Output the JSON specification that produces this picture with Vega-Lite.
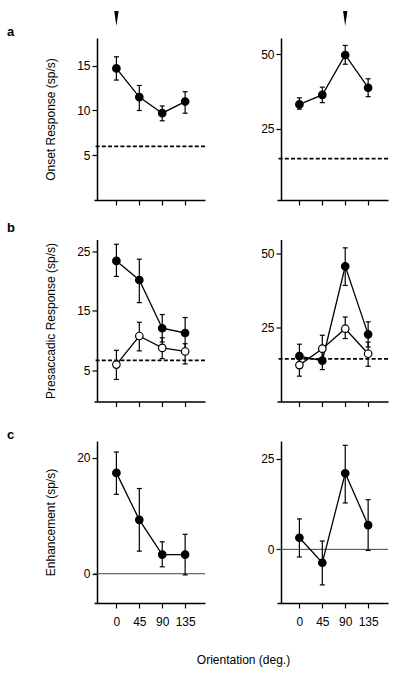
{
  "$schema": "https://vega.github.io/schema/vega-lite/v6.json",
  "padding": {"left": 7, "top": 10, "right": 5, "bottom": 5},
  "autosize": {"type": "pad"},
  "background": "white",
  "datasets": {
    "rows": [
      {"panel": "aL", "kind": "mean", "series": "filled", "orientation": 0, "mean": 14.7, "lo": 13.4, "hi": 16.0},
      {"panel": "aL", "kind": "mean", "series": "filled", "orientation": 45, "mean": 11.5, "lo": 10.0, "hi": 12.8},
      {"panel": "aL", "kind": "mean", "series": "filled", "orientation": 90, "mean": 9.7, "lo": 8.85, "hi": 10.5},
      {"panel": "aL", "kind": "mean", "series": "filled", "orientation": 135, "mean": 11.0, "lo": 9.7, "hi": 12.1},
      {"panel": "aL", "kind": "baseline", "level": 6.0},
      {"panel": "aL", "kind": "preferred", "orientation": 0},
      {"panel": "aR", "kind": "mean", "series": "filled", "orientation": 0, "mean": 33.1, "lo": 31.5, "hi": 35.3},
      {"panel": "aR", "kind": "mean", "series": "filled", "orientation": 45, "mean": 36.3, "lo": 33.7, "hi": 38.9},
      {"panel": "aR", "kind": "mean", "series": "filled", "orientation": 90, "mean": 49.7, "lo": 46.6, "hi": 52.9},
      {"panel": "aR", "kind": "mean", "series": "filled", "orientation": 135, "mean": 38.7, "lo": 35.7, "hi": 41.7},
      {"panel": "aR", "kind": "baseline", "level": 14.9},
      {"panel": "aR", "kind": "preferred", "orientation": 90},
      {"panel": "bL", "kind": "mean", "series": "filled", "orientation": 0, "mean": 23.4, "lo": 20.8, "hi": 26.2},
      {"panel": "bL", "kind": "mean", "series": "filled", "orientation": 45, "mean": 20.2, "lo": 16.4, "hi": 23.7},
      {"panel": "bL", "kind": "mean", "series": "filled", "orientation": 90, "mean": 12.1, "lo": 9.8, "hi": 14.4},
      {"panel": "bL", "kind": "mean", "series": "filled", "orientation": 135, "mean": 11.3, "lo": 8.7, "hi": 13.9},
      {"panel": "bL", "kind": "mean", "series": "open", "orientation": 0, "mean": 6.0, "lo": 3.5, "hi": 8.4},
      {"panel": "bL", "kind": "mean", "series": "open", "orientation": 45, "mean": 10.8, "lo": 8.3, "hi": 13.1},
      {"panel": "bL", "kind": "mean", "series": "open", "orientation": 90, "mean": 8.8, "lo": 7.0, "hi": 10.5},
      {"panel": "bL", "kind": "mean", "series": "open", "orientation": 135, "mean": 8.2, "lo": 6.1, "hi": 9.5},
      {"panel": "bL", "kind": "baseline", "level": 6.7},
      {"panel": "bR", "kind": "mean", "series": "filled", "orientation": 0, "mean": 15.5, "lo": 11.5, "hi": 19.5},
      {"panel": "bR", "kind": "mean", "series": "filled", "orientation": 45, "mean": 14.0, "lo": 11.0, "hi": 17.0},
      {"panel": "bR", "kind": "mean", "series": "filled", "orientation": 90, "mean": 45.6, "lo": 39.2, "hi": 51.8},
      {"panel": "bR", "kind": "mean", "series": "filled", "orientation": 135, "mean": 22.8, "lo": 18.6, "hi": 27.0},
      {"panel": "bR", "kind": "mean", "series": "open", "orientation": 0, "mean": 12.5, "lo": 8.8, "hi": 15.5},
      {"panel": "bR", "kind": "mean", "series": "open", "orientation": 45, "mean": 18.0, "lo": 14.5, "hi": 22.5},
      {"panel": "bR", "kind": "mean", "series": "open", "orientation": 90, "mean": 24.7, "lo": 21.4, "hi": 28.6},
      {"panel": "bR", "kind": "mean", "series": "open", "orientation": 135, "mean": 16.3, "lo": 12.1, "hi": 20.2},
      {"panel": "bR", "kind": "baseline", "level": 14.6},
      {"panel": "cL", "kind": "mean", "series": "filled", "orientation": 0, "mean": 17.4, "lo": 13.7, "hi": 21.0},
      {"panel": "cL", "kind": "mean", "series": "filled", "orientation": 45, "mean": 9.3, "lo": 3.9, "hi": 14.7},
      {"panel": "cL", "kind": "mean", "series": "filled", "orientation": 90, "mean": 3.3, "lo": 1.2, "hi": 5.5},
      {"panel": "cL", "kind": "mean", "series": "filled", "orientation": 135, "mean": 3.3, "lo": -0.2, "hi": 6.8},
      {"panel": "cL", "kind": "zero", "level": 0},
      {"panel": "cR", "kind": "mean", "series": "filled", "orientation": 0, "mean": 3.2, "lo": -2.1, "hi": 8.4},
      {"panel": "cR", "kind": "mean", "series": "filled", "orientation": 45, "mean": -3.7, "lo": -9.8, "hi": 2.3},
      {"panel": "cR", "kind": "mean", "series": "filled", "orientation": 90, "mean": 21.0, "lo": 12.8, "hi": 28.7},
      {"panel": "cR", "kind": "mean", "series": "filled", "orientation": 135, "mean": 6.7, "lo": -0.3, "hi": 13.7},
      {"panel": "cR", "kind": "zero", "level": 0}
    ]
  },
  "data": {"name": "rows"},
  "bounds": "flush",
  "columns": 2,
  "spacing": {"row": 39.5, "column": 72},
  "concat": [
    {
      "width": 111, "height": 162,
      "title": {"text": "a", "anchor": "start", "frame": "group", "dx": -87, "offset": -28, "fontSize": 13, "fontWeight": "bold", "font": "Liberation Sans", "color": "black"},
      "transform": [{"filter": "datum.panel === 'aL'"}],
      "layer": [
        {"transform": [{"filter": "datum.kind === 'baseline'"}], "mark": {"type": "rule", "strokeDash": [4, 2.2], "strokeWidth": 1.8, "color": "black"},
         "encoding": {"y": {"field": "level", "type": "quantitative", "title": "Onset Response (sp/s)", "scale": {"domain": [0, 18.1], "nice": false, "zero": false}, "axis": {"values": [5, 10, 15], "offset": -3, "titleX": -40, "titleAngle": 270, "titleBaseline": "bottom", "titleAlign": "center"}}}},
        {"transform": [{"filter": "datum.kind === 'mean'"}], "mark": {"type": "line", "color": "black", "strokeWidth": 1.3},
         "encoding": {
           "x": {"field": "orientation", "type": "quantitative", "title": null, "scale": {"domain": [-44, 174], "nice": false, "zero": false}, "axis": {"values": [0, 45, 90, 135], "labels": false}},
           "y": {"field": "mean", "type": "quantitative", "title": "Onset Response (sp/s)", "scale": {"domain": [0, 18.1], "nice": false, "zero": false}},
           "detail": {"field": "series", "type": "nominal"}}},
        {"transform": [{"filter": "datum.kind === 'mean'"}], "mark": {"type": "rule", "color": "black", "strokeWidth": 1.2},
         "encoding": {"x": {"field": "orientation", "type": "quantitative", "title": null, "scale": {"domain": [-44, 174], "nice": false, "zero": false}, "axis": {"values": [0, 45, 90, 135], "labels": false}},
           "y": {"field": "lo", "type": "quantitative", "title": "Onset Response (sp/s)", "scale": {"domain": [0, 18.1], "nice": false, "zero": false}}, "y2": {"field": "hi"}}},
        {"transform": [{"filter": "datum.kind === 'mean'"}], "mark": {"type": "tick", "orient": "horizontal", "size": 5, "thickness": 1.2, "color": "black", "opacity": 1},
         "encoding": {"x": {"field": "orientation", "type": "quantitative", "title": null, "scale": {"domain": [-44, 174], "nice": false, "zero": false}, "axis": {"values": [0, 45, 90, 135], "labels": false}},
           "y": {"field": "lo", "type": "quantitative", "title": "Onset Response (sp/s)", "scale": {"domain": [0, 18.1], "nice": false, "zero": false}}}},
        {"transform": [{"filter": "datum.kind === 'mean'"}], "mark": {"type": "tick", "orient": "horizontal", "size": 5, "thickness": 1.2, "color": "black", "opacity": 1},
         "encoding": {"x": {"field": "orientation", "type": "quantitative", "title": null, "scale": {"domain": [-44, 174], "nice": false, "zero": false}, "axis": {"values": [0, 45, 90, 135], "labels": false}},
           "y": {"field": "hi", "type": "quantitative", "title": "Onset Response (sp/s)", "scale": {"domain": [0, 18.1], "nice": false, "zero": false}}}},
        {"transform": [{"filter": "datum.kind === 'mean'"}], "mark": {"type": "point", "filled": true, "size": 56, "stroke": "black", "strokeWidth": 1.2, "opacity": 1},
         "encoding": {"x": {"field": "orientation", "type": "quantitative", "title": null, "scale": {"domain": [-44, 174], "nice": false, "zero": false}, "axis": {"values": [0, 45, 90, 135], "labels": false}},
           "y": {"field": "mean", "type": "quantitative", "title": "Onset Response (sp/s)", "scale": {"domain": [0, 18.1], "nice": false, "zero": false}},
           "fill": {"field": "series", "type": "nominal", "scale": {"domain": ["filled", "open"], "range": ["black", "white"]}, "legend": null}}},
        {"transform": [{"filter": "datum.kind === 'preferred'"}], "mark": {"type": "point", "shape": "M-0.29,-1L0.29,-1L0,1Z", "filled": true, "color": "black", "size": 225, "opacity": 1, "clip": false},
         "encoding": {"x": {"field": "orientation", "type": "quantitative", "title": null, "scale": {"domain": [-44, 174], "nice": false, "zero": false}, "axis": {"values": [0, 45, 90, 135], "labels": false}},
           "y": {"datum": 20.28, "type": "quantitative", "title": "Onset Response (sp/s)", "scale": {"domain": [0, 18.1], "nice": false, "zero": false}}}}
      ]
    },
    {
      "width": 111, "height": 162,
      "transform": [{"filter": "datum.panel === 'aR'"}],
      "layer": [
        {"transform": [{"filter": "datum.kind === 'baseline'"}], "mark": {"type": "rule", "strokeDash": [4, 2.2], "strokeWidth": 1.8, "color": "black"},
         "encoding": {"y": {"field": "level", "type": "quantitative", "title": null, "scale": {"domain": [1, 55.4], "nice": false, "zero": false}, "axis": {"values": [25, 50], "offset": -4}}}},
        {"transform": [{"filter": "datum.kind === 'mean'"}], "mark": {"type": "line", "color": "black", "strokeWidth": 1.3},
         "encoding": {
           "x": {"field": "orientation", "type": "quantitative", "title": null, "scale": {"domain": [-44, 174], "nice": false, "zero": false}, "axis": {"values": [0, 45, 90, 135], "labels": false}},
           "y": {"field": "mean", "type": "quantitative", "title": null, "scale": {"domain": [1, 55.4], "nice": false, "zero": false}},
           "detail": {"field": "series", "type": "nominal"}}},
        {"transform": [{"filter": "datum.kind === 'mean'"}], "mark": {"type": "rule", "color": "black", "strokeWidth": 1.2},
         "encoding": {"x": {"field": "orientation", "type": "quantitative", "title": null, "scale": {"domain": [-44, 174], "nice": false, "zero": false}, "axis": {"values": [0, 45, 90, 135], "labels": false}},
           "y": {"field": "lo", "type": "quantitative", "title": null, "scale": {"domain": [1, 55.4], "nice": false, "zero": false}}, "y2": {"field": "hi"}}},
        {"transform": [{"filter": "datum.kind === 'mean'"}], "mark": {"type": "tick", "orient": "horizontal", "size": 5, "thickness": 1.2, "color": "black", "opacity": 1},
         "encoding": {"x": {"field": "orientation", "type": "quantitative", "title": null, "scale": {"domain": [-44, 174], "nice": false, "zero": false}, "axis": {"values": [0, 45, 90, 135], "labels": false}},
           "y": {"field": "lo", "type": "quantitative", "title": null, "scale": {"domain": [1, 55.4], "nice": false, "zero": false}}}},
        {"transform": [{"filter": "datum.kind === 'mean'"}], "mark": {"type": "tick", "orient": "horizontal", "size": 5, "thickness": 1.2, "color": "black", "opacity": 1},
         "encoding": {"x": {"field": "orientation", "type": "quantitative", "title": null, "scale": {"domain": [-44, 174], "nice": false, "zero": false}, "axis": {"values": [0, 45, 90, 135], "labels": false}},
           "y": {"field": "hi", "type": "quantitative", "title": null, "scale": {"domain": [1, 55.4], "nice": false, "zero": false}}}},
        {"transform": [{"filter": "datum.kind === 'mean'"}], "mark": {"type": "point", "filled": true, "size": 56, "stroke": "black", "strokeWidth": 1.2, "opacity": 1},
         "encoding": {"x": {"field": "orientation", "type": "quantitative", "title": null, "scale": {"domain": [-44, 174], "nice": false, "zero": false}, "axis": {"values": [0, 45, 90, 135], "labels": false}},
           "y": {"field": "mean", "type": "quantitative", "title": null, "scale": {"domain": [1, 55.4], "nice": false, "zero": false}},
           "fill": {"field": "series", "type": "nominal", "scale": {"domain": ["filled", "open"], "range": ["black", "white"]}, "legend": null}}},
        {"transform": [{"filter": "datum.kind === 'preferred'"}], "mark": {"type": "point", "shape": "M-0.29,-1L0.29,-1L0,1Z", "filled": true, "color": "black", "size": 225, "opacity": 1, "clip": false},
         "encoding": {"x": {"field": "orientation", "type": "quantitative", "title": null, "scale": {"domain": [-44, 174], "nice": false, "zero": false}, "axis": {"values": [0, 45, 90, 135], "labels": false}},
           "y": {"datum": 61.95, "type": "quantitative", "title": null, "scale": {"domain": [1, 55.4], "nice": false, "zero": false}}}}
      ]
    },
    {
      "width": 111, "height": 162,
      "title": {"text": "b", "anchor": "start", "frame": "group", "dx": -87, "offset": 5, "fontSize": 13, "fontWeight": "bold", "font": "Liberation Sans", "color": "black"},
      "transform": [{"filter": "datum.panel === 'bL'"}],
      "layer": [
        {"transform": [{"filter": "datum.kind === 'baseline'"}], "mark": {"type": "rule", "strokeDash": [4, 2.2], "strokeWidth": 1.8, "color": "black"},
         "encoding": {"y": {"field": "level", "type": "quantitative", "title": "Presaccadic Response (sp/s)", "scale": {"domain": [-0.2, 27], "nice": false, "zero": false}, "axis": {"values": [5, 15, 25], "offset": -3, "titleX": -40, "titleAngle": 270, "titleBaseline": "bottom", "titleAlign": "center"}}}},
        {"transform": [{"filter": "datum.kind === 'mean'"}], "mark": {"type": "line", "color": "black", "strokeWidth": 1.3},
         "encoding": {
           "x": {"field": "orientation", "type": "quantitative", "title": null, "scale": {"domain": [-44, 174], "nice": false, "zero": false}, "axis": {"values": [0, 45, 90, 135], "labels": false}},
           "y": {"field": "mean", "type": "quantitative", "title": "Presaccadic Response (sp/s)", "scale": {"domain": [-0.2, 27], "nice": false, "zero": false}},
           "detail": {"field": "series", "type": "nominal"}}},
        {"transform": [{"filter": "datum.kind === 'mean'"}], "mark": {"type": "rule", "color": "black", "strokeWidth": 1.2},
         "encoding": {"x": {"field": "orientation", "type": "quantitative", "title": null, "scale": {"domain": [-44, 174], "nice": false, "zero": false}, "axis": {"values": [0, 45, 90, 135], "labels": false}},
           "y": {"field": "lo", "type": "quantitative", "title": "Presaccadic Response (sp/s)", "scale": {"domain": [-0.2, 27], "nice": false, "zero": false}}, "y2": {"field": "hi"}}},
        {"transform": [{"filter": "datum.kind === 'mean'"}], "mark": {"type": "tick", "orient": "horizontal", "size": 5, "thickness": 1.2, "color": "black", "opacity": 1},
         "encoding": {"x": {"field": "orientation", "type": "quantitative", "title": null, "scale": {"domain": [-44, 174], "nice": false, "zero": false}, "axis": {"values": [0, 45, 90, 135], "labels": false}},
           "y": {"field": "lo", "type": "quantitative", "title": "Presaccadic Response (sp/s)", "scale": {"domain": [-0.2, 27], "nice": false, "zero": false}}}},
        {"transform": [{"filter": "datum.kind === 'mean'"}], "mark": {"type": "tick", "orient": "horizontal", "size": 5, "thickness": 1.2, "color": "black", "opacity": 1},
         "encoding": {"x": {"field": "orientation", "type": "quantitative", "title": null, "scale": {"domain": [-44, 174], "nice": false, "zero": false}, "axis": {"values": [0, 45, 90, 135], "labels": false}},
           "y": {"field": "hi", "type": "quantitative", "title": "Presaccadic Response (sp/s)", "scale": {"domain": [-0.2, 27], "nice": false, "zero": false}}}},
        {"transform": [{"filter": "datum.kind === 'mean'"}], "mark": {"type": "point", "filled": true, "size": 56, "stroke": "black", "strokeWidth": 1.2, "opacity": 1},
         "encoding": {"x": {"field": "orientation", "type": "quantitative", "title": null, "scale": {"domain": [-44, 174], "nice": false, "zero": false}, "axis": {"values": [0, 45, 90, 135], "labels": false}},
           "y": {"field": "mean", "type": "quantitative", "title": "Presaccadic Response (sp/s)", "scale": {"domain": [-0.2, 27], "nice": false, "zero": false}},
           "fill": {"field": "series", "type": "nominal", "scale": {"domain": ["filled", "open"], "range": ["black", "white"]}, "legend": null}}}
      ]
    },
    {
      "width": 111, "height": 162,
      "transform": [{"filter": "datum.panel === 'bR'"}],
      "layer": [
        {"transform": [{"filter": "datum.kind === 'baseline'"}], "mark": {"type": "rule", "strokeDash": [4, 2.2], "strokeWidth": 1.8, "color": "black"},
         "encoding": {"y": {"field": "level", "type": "quantitative", "title": null, "scale": {"domain": [0.3, 54.6], "nice": false, "zero": false}, "axis": {"values": [25, 50], "offset": -4}}}},
        {"transform": [{"filter": "datum.kind === 'mean'"}], "mark": {"type": "line", "color": "black", "strokeWidth": 1.3},
         "encoding": {
           "x": {"field": "orientation", "type": "quantitative", "title": null, "scale": {"domain": [-44, 174], "nice": false, "zero": false}, "axis": {"values": [0, 45, 90, 135], "labels": false}},
           "y": {"field": "mean", "type": "quantitative", "title": null, "scale": {"domain": [0.3, 54.6], "nice": false, "zero": false}},
           "detail": {"field": "series", "type": "nominal"}}},
        {"transform": [{"filter": "datum.kind === 'mean'"}], "mark": {"type": "rule", "color": "black", "strokeWidth": 1.2},
         "encoding": {"x": {"field": "orientation", "type": "quantitative", "title": null, "scale": {"domain": [-44, 174], "nice": false, "zero": false}, "axis": {"values": [0, 45, 90, 135], "labels": false}},
           "y": {"field": "lo", "type": "quantitative", "title": null, "scale": {"domain": [0.3, 54.6], "nice": false, "zero": false}}, "y2": {"field": "hi"}}},
        {"transform": [{"filter": "datum.kind === 'mean'"}], "mark": {"type": "tick", "orient": "horizontal", "size": 5, "thickness": 1.2, "color": "black", "opacity": 1},
         "encoding": {"x": {"field": "orientation", "type": "quantitative", "title": null, "scale": {"domain": [-44, 174], "nice": false, "zero": false}, "axis": {"values": [0, 45, 90, 135], "labels": false}},
           "y": {"field": "lo", "type": "quantitative", "title": null, "scale": {"domain": [0.3, 54.6], "nice": false, "zero": false}}}},
        {"transform": [{"filter": "datum.kind === 'mean'"}], "mark": {"type": "tick", "orient": "horizontal", "size": 5, "thickness": 1.2, "color": "black", "opacity": 1},
         "encoding": {"x": {"field": "orientation", "type": "quantitative", "title": null, "scale": {"domain": [-44, 174], "nice": false, "zero": false}, "axis": {"values": [0, 45, 90, 135], "labels": false}},
           "y": {"field": "hi", "type": "quantitative", "title": null, "scale": {"domain": [0.3, 54.6], "nice": false, "zero": false}}}},
        {"transform": [{"filter": "datum.kind === 'mean'"}], "mark": {"type": "point", "filled": true, "size": 56, "stroke": "black", "strokeWidth": 1.2, "opacity": 1},
         "encoding": {"x": {"field": "orientation", "type": "quantitative", "title": null, "scale": {"domain": [-44, 174], "nice": false, "zero": false}, "axis": {"values": [0, 45, 90, 135], "labels": false}},
           "y": {"field": "mean", "type": "quantitative", "title": null, "scale": {"domain": [0.3, 54.6], "nice": false, "zero": false}},
           "fill": {"field": "series", "type": "nominal", "scale": {"domain": ["filled", "open"], "range": ["black", "white"]}, "legend": null}}}
      ]
    },
    {
      "width": 111, "height": 162,
      "title": {"text": "c", "anchor": "start", "frame": "group", "dx": -87, "offset": -1, "fontSize": 13, "fontWeight": "bold", "font": "Liberation Sans", "color": "black"},
      "transform": [{"filter": "datum.panel === 'cL'"}],
      "layer": [
        {"transform": [{"filter": "datum.kind === 'zero'"}], "mark": {"type": "rule", "strokeWidth": 1, "color": "#444444"},
         "encoding": {"y": {"field": "level", "type": "quantitative", "title": "Enhancement (sp/s)", "scale": {"domain": [-5.05, 22.9], "nice": false, "zero": false}, "axis": {"values": [0, 20], "offset": -3, "titleX": -40, "titleAngle": 270, "titleBaseline": "bottom", "titleAlign": "center"}}}},
        {"transform": [{"filter": "datum.kind === 'mean'"}], "mark": {"type": "line", "color": "black", "strokeWidth": 1.3},
         "encoding": {
           "x": {"field": "orientation", "type": "quantitative", "title": "Orientation (deg.)", "scale": {"domain": [-44, 174], "nice": false, "zero": false}, "axis": {"values": [0, 45, 90, 135], "labelOverlap": false, "labelFlush": false, "labelPadding": 8, "titleX": 149, "titleY": 51, "titleAlign": "center", "titleBaseline": "top"}},
           "y": {"field": "mean", "type": "quantitative", "title": "Enhancement (sp/s)", "scale": {"domain": [-5.05, 22.9], "nice": false, "zero": false}},
           "detail": {"field": "series", "type": "nominal"}}},
        {"transform": [{"filter": "datum.kind === 'mean'"}], "mark": {"type": "rule", "color": "black", "strokeWidth": 1.2},
         "encoding": {"x": {"field": "orientation", "type": "quantitative", "title": "Orientation (deg.)", "scale": {"domain": [-44, 174], "nice": false, "zero": false}, "axis": {"values": [0, 45, 90, 135], "labelOverlap": false, "labelFlush": false, "labelPadding": 8, "titleX": 149, "titleY": 51, "titleAlign": "center", "titleBaseline": "top"}},
           "y": {"field": "lo", "type": "quantitative", "title": "Enhancement (sp/s)", "scale": {"domain": [-5.05, 22.9], "nice": false, "zero": false}}, "y2": {"field": "hi"}}},
        {"transform": [{"filter": "datum.kind === 'mean'"}], "mark": {"type": "tick", "orient": "horizontal", "size": 5, "thickness": 1.2, "color": "black", "opacity": 1},
         "encoding": {"x": {"field": "orientation", "type": "quantitative", "title": "Orientation (deg.)", "scale": {"domain": [-44, 174], "nice": false, "zero": false}, "axis": {"values": [0, 45, 90, 135], "labelOverlap": false, "labelFlush": false, "labelPadding": 8, "titleX": 149, "titleY": 51, "titleAlign": "center", "titleBaseline": "top"}},
           "y": {"field": "lo", "type": "quantitative", "title": "Enhancement (sp/s)", "scale": {"domain": [-5.05, 22.9], "nice": false, "zero": false}}}},
        {"transform": [{"filter": "datum.kind === 'mean'"}], "mark": {"type": "tick", "orient": "horizontal", "size": 5, "thickness": 1.2, "color": "black", "opacity": 1},
         "encoding": {"x": {"field": "orientation", "type": "quantitative", "title": "Orientation (deg.)", "scale": {"domain": [-44, 174], "nice": false, "zero": false}, "axis": {"values": [0, 45, 90, 135], "labelOverlap": false, "labelFlush": false, "labelPadding": 8, "titleX": 149, "titleY": 51, "titleAlign": "center", "titleBaseline": "top"}},
           "y": {"field": "hi", "type": "quantitative", "title": "Enhancement (sp/s)", "scale": {"domain": [-5.05, 22.9], "nice": false, "zero": false}}}},
        {"transform": [{"filter": "datum.kind === 'mean'"}], "mark": {"type": "point", "filled": true, "size": 56, "stroke": "black", "strokeWidth": 1.2, "opacity": 1},
         "encoding": {"x": {"field": "orientation", "type": "quantitative", "title": "Orientation (deg.)", "scale": {"domain": [-44, 174], "nice": false, "zero": false}, "axis": {"values": [0, 45, 90, 135], "labelOverlap": false, "labelFlush": false, "labelPadding": 8, "titleX": 149, "titleY": 51, "titleAlign": "center", "titleBaseline": "top"}},
           "y": {"field": "mean", "type": "quantitative", "title": "Enhancement (sp/s)", "scale": {"domain": [-5.05, 22.9], "nice": false, "zero": false}},
           "fill": {"field": "series", "type": "nominal", "scale": {"domain": ["filled", "open"], "range": ["black", "white"]}, "legend": null}}}
      ]
    },
    {
      "width": 111, "height": 162,
      "transform": [{"filter": "datum.panel === 'cR'"}],
      "layer": [
        {"transform": [{"filter": "datum.kind === 'zero'"}], "mark": {"type": "rule", "strokeWidth": 1, "color": "#444444"},
         "encoding": {"y": {"field": "level", "type": "quantitative", "title": null, "scale": {"domain": [-14.8, 29.9], "nice": false, "zero": false}, "axis": {"values": [0, 25], "offset": -4}}}},
        {"transform": [{"filter": "datum.kind === 'mean'"}], "mark": {"type": "line", "color": "black", "strokeWidth": 1.3},
         "encoding": {
           "x": {"field": "orientation", "type": "quantitative", "title": null, "scale": {"domain": [-44, 174], "nice": false, "zero": false}, "axis": {"values": [0, 45, 90, 135], "labelOverlap": false, "labelFlush": false, "labelPadding": 8}},
           "y": {"field": "mean", "type": "quantitative", "title": null, "scale": {"domain": [-14.8, 29.9], "nice": false, "zero": false}},
           "detail": {"field": "series", "type": "nominal"}}},
        {"transform": [{"filter": "datum.kind === 'mean'"}], "mark": {"type": "rule", "color": "black", "strokeWidth": 1.2},
         "encoding": {"x": {"field": "orientation", "type": "quantitative", "title": null, "scale": {"domain": [-44, 174], "nice": false, "zero": false}, "axis": {"values": [0, 45, 90, 135], "labelOverlap": false, "labelFlush": false, "labelPadding": 8}},
           "y": {"field": "lo", "type": "quantitative", "title": null, "scale": {"domain": [-14.8, 29.9], "nice": false, "zero": false}}, "y2": {"field": "hi"}}},
        {"transform": [{"filter": "datum.kind === 'mean'"}], "mark": {"type": "tick", "orient": "horizontal", "size": 5, "thickness": 1.2, "color": "black", "opacity": 1},
         "encoding": {"x": {"field": "orientation", "type": "quantitative", "title": null, "scale": {"domain": [-44, 174], "nice": false, "zero": false}, "axis": {"values": [0, 45, 90, 135], "labelOverlap": false, "labelFlush": false, "labelPadding": 8}},
           "y": {"field": "lo", "type": "quantitative", "title": null, "scale": {"domain": [-14.8, 29.9], "nice": false, "zero": false}}}},
        {"transform": [{"filter": "datum.kind === 'mean'"}], "mark": {"type": "tick", "orient": "horizontal", "size": 5, "thickness": 1.2, "color": "black", "opacity": 1},
         "encoding": {"x": {"field": "orientation", "type": "quantitative", "title": null, "scale": {"domain": [-44, 174], "nice": false, "zero": false}, "axis": {"values": [0, 45, 90, 135], "labelOverlap": false, "labelFlush": false, "labelPadding": 8}},
           "y": {"field": "hi", "type": "quantitative", "title": null, "scale": {"domain": [-14.8, 29.9], "nice": false, "zero": false}}}},
        {"transform": [{"filter": "datum.kind === 'mean'"}], "mark": {"type": "point", "filled": true, "size": 56, "stroke": "black", "strokeWidth": 1.2, "opacity": 1},
         "encoding": {"x": {"field": "orientation", "type": "quantitative", "title": null, "scale": {"domain": [-44, 174], "nice": false, "zero": false}, "axis": {"values": [0, 45, 90, 135], "labelOverlap": false, "labelFlush": false, "labelPadding": 8}},
           "y": {"field": "mean", "type": "quantitative", "title": null, "scale": {"domain": [-14.8, 29.9], "nice": false, "zero": false}},
           "fill": {"field": "series", "type": "nominal", "scale": {"domain": ["filled", "open"], "range": ["black", "white"]}, "legend": null}}}
      ]
    }
  ],
  "config": {
    "view": {"stroke": null},
    "font": "Liberation Sans",
    "axis": {"domainColor": "black", "domainWidth": 1.5, "tickColor": "black", "tickWidth": 1.2, "tickSize": 5, "labelColor": "black", "labelFont": "Liberation Sans", "labelFontSize": 12, "labelPadding": 2, "titleColor": "black", "titleFont": "Liberation Sans", "titleFontSize": 12, "titleFontWeight": "normal", "grid": false},
    "axisX": {"labelPadding": 8, "labelOverlap": false}
  }
}
